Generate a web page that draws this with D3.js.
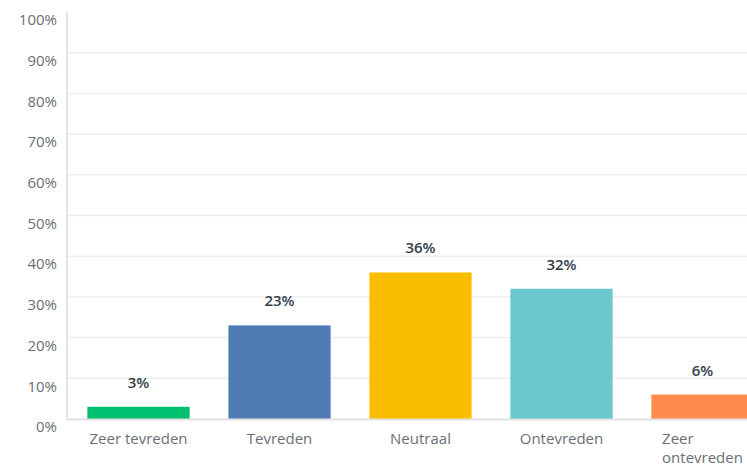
<!DOCTYPE html>
<html>
<head>
<meta charset="utf-8">
<script src="https://cdn.jsdelivr.net/npm/d3@7/dist/d3.min.js"></script>
<style>
  html, body { margin: 0; padding: 0; background: #fff; }
  svg { display: block; }
  text { font-family: "Open Sans", "Noto Sans", sans-serif; }
</style>
</head>
<body>
<svg id="chart" width="747" height="468"></svg>
<script>
// Answer categories (Dutch satisfaction scale)
const categories = ["Zeer tevreden", "Tevreden", "Neutraal", "Ontevreden", "Zeer ontevreden"];
// Share of respondents per answer, in percent
const values = [3, 23, 36, 32, 6];
// Bar colours per answer
const colors = ["#00bf6f", "#507cb6", "#f9be00", "#6bc8cd", "#ff8b4f"];
// Y-axis tick values, in percent
const yTicks = [0, 10, 20, 30, 40, 50, 60, 70, 80, 90, 100];

const W = 747, H = 468;
const plotLeft = 67, plotTop = 12, plotBottom = 419;

const svg = d3.select("#chart");

const x = d3.scaleBand()
  .domain(categories)
  .range([68, 68 + 5 * 141])
  .paddingInner(0.275)
  .paddingOuter(0.1375);

const y = d3.scaleLinear()
  .domain([0, 100])
  .range([plotBottom, plotTop]);

// Horizontal grid lines
svg.append("g")
  .selectAll("line")
  .data(yTicks.filter(t => t > 0 && t < 100))
  .join("line")
  .attr("x1", plotLeft)
  .attr("x2", W)
  .attr("y1", d => y(d))
  .attr("y2", d => y(d))
  .attr("stroke", "#efefef")
  .attr("stroke-width", 1.5);

// Y-axis labels
const yAxis = d3.axisLeft(y)
  .tickValues(yTicks)
  .tickFormat(d => d + "%")
  .tickSize(0)
  .tickPadding(10);

const yg = svg.append("g")
  .attr("transform", `translate(${plotLeft},0)`)
  .call(yAxis);
yg.select(".domain").remove();
yg.selectAll("text")
  .attr("dy", "1.05em")
  .attr("y", -3)
  .attr("fill", "#6b6f73")
  .style("font-size", "15px");

// Bars
svg.append("g")
  .selectAll("rect")
  .data(values)
  .join("rect")
  .attr("x", (d, i) => x(categories[i]))
  .attr("y", d => y(d))
  .attr("width", x.bandwidth())
  .attr("height", d => y(0) - y(d))
  .attr("fill", (d, i) => colors[i]);

// Value labels above bars
svg.append("g")
  .selectAll("text")
  .data(values)
  .join("text")
  .attr("x", (d, i) => x(categories[i]) + x.bandwidth() / 2)
  .attr("y", d => y(d) - 19)
  .attr("text-anchor", "middle")
  .attr("fill", "#333e48")
  .style("font-size", "15px")
  .style("font-weight", "600")
  .text(d => d + "%");

// Axis lines
svg.append("line")
  .attr("x1", plotLeft).attr("x2", plotLeft)
  .attr("y1", plotTop).attr("y2", plotBottom + 1)
  .attr("stroke", "#e2e2e2").attr("stroke-width", 2);
svg.append("line")
  .attr("x1", plotLeft).attr("x2", W)
  .attr("y1", plotBottom + 0.5).attr("y2", plotBottom + 0.5)
  .attr("stroke", "#e2e2e2").attr("stroke-width", 2);

// Category labels, wrapped to the band width; lines left-aligned in a centred block
const maxWidth = x.bandwidth() - 4;
const catG = svg.append("g");
categories.forEach(cat => {
  const cx = x(cat) + x.bandwidth() / 2;
  const t = catG.append("text")
    .attr("fill", "#6b6f73")
    .style("font-size", "15px")
    .attr("y", 444);
  const words = cat.split(" ");
  let lines = [];
  let line = [];
  const probe = t.append("tspan");
  words.forEach(w => {
    line.push(w);
    probe.text(line.join(" "));
    if (probe.node().getComputedTextLength() > maxWidth && line.length > 1) {
      line.pop();
      lines.push(line.join(" "));
      line = [w];
    }
  });
  lines.push(line.join(" "));
  probe.remove();
  const spans = lines.map((l, i) => t.append("tspan").attr("dy", i === 0 ? 0 : 19).text(l));
  const widest = d3.max(spans, s => s.node().getComputedTextLength());
  spans.forEach(s => s.attr("x", cx - widest / 2));
});
</script>
</body>
</html>
